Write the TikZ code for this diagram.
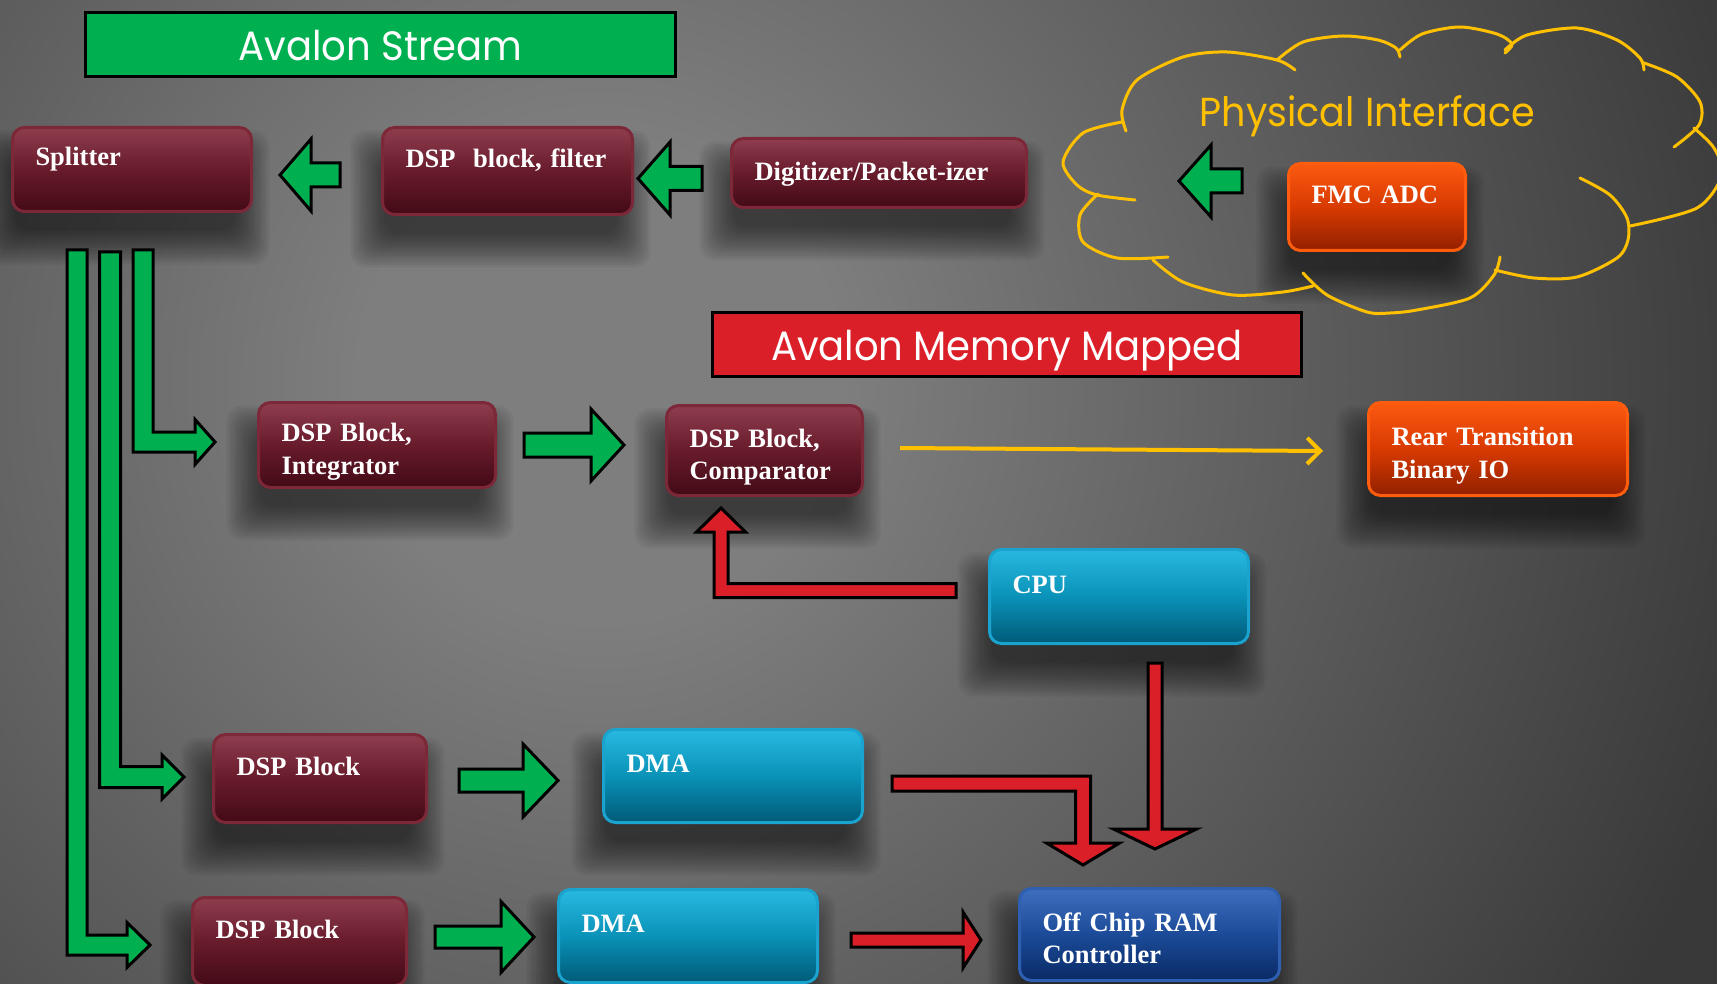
\documentclass[tikz,border=0pt]{standalone}
\usepackage{fontspec}
\newfontfamily\boxfont{Liberation Serif}
\newfontfamily\titlefont{Poppins}[FakeStretch=0.94]
\usetikzlibrary{calc,arrows.meta}

\definecolor{agreen}{HTML}{00B050}
\definecolor{ared}{HTML}{DA1F28}
\definecolor{cloudy}{HTML}{FFC000}
\definecolor{bgin}{HTML}{7E7E7E}
\definecolor{bgout}{HTML}{393939}
\definecolor{mtop}{HTML}{8E3D4E}
\definecolor{mmid}{HTML}{681B2B}
\definecolor{mbot}{HTML}{430A16}
\definecolor{mbord}{HTML}{7D2838}
\definecolor{btop}{HTML}{28B9E0}
\definecolor{bmid}{HTML}{0A92B8}
\definecolor{bbot}{HTML}{005A78}
\definecolor{bbord}{HTML}{1BA3CF}
\definecolor{otop}{HTML}{FB5A10}
\definecolor{omid}{HTML}{D83A02}
\definecolor{obot}{HTML}{922000}
\definecolor{obord}{HTML}{FF5C0E}
\definecolor{ntop}{HTML}{3E6EBE}
\definecolor{nmid}{HTML}{1B4B98}
\definecolor{nbot}{HTML}{0A2A66}
\definecolor{nbord}{HTML}{2F5FB0}

\pgfdeclareradialshading{bgrad}{\pgfpoint{0bp}{0bp}}{color(0bp)=(bgin); color(5bp)=(bgin); color(25bp)=(bgout); color(50bp)=(bgout)}
\pgfdeclarelayer{bglayer}
\pgfdeclarelayer{shadowlayer}
\pgfsetlayers{bglayer,shadowlayer,main}

% horizontal block arrow: style, tail, tip, shaft half width, head half width, head length (signed, + = right)
\newcommand\hblockarrow[6]{\draw[#1] ($(#2)+(0,-#4)$) -- ($(#3)+(-1*#6,-#4)$) -- ($(#3)+(-1*#6,-#5)$) -- (#3) -- ($(#3)+(-1*#6,#5)$) -- ($(#3)+(-1*#6,#4)$) -- ($(#2)+(0,#4)$) -- cycle;}
% vertical block arrow: head length signed, + = down
\newcommand\vblockarrow[6]{\draw[#1] ($(#2)+(-#4,0)$) -- ($(#3)+(-#4,-1*#6)$) -- ($(#3)+(-#5,-1*#6)$) -- (#3) -- ($(#3)+(#5,-1*#6)$) -- ($(#3)+(#4,-1*#6)$) -- ($(#2)+(#4,0)$) -- cycle;}
% bent block arrow: down, then right
\newcommand\downrightarrow[6]{\draw[#1] ($(#2)+(-#4,0)$) -- ($(#2)+(#4,0)$) -- ($(#2|-#3)+(#4,-#4)$) -- ($(#3)+(-#6,-#4)$) -- ($(#3)+(-#6,-#5)$) -- (#3) -- ($(#3)+(-#6,#5)$) -- ($(#3)+(-#6,#4)$) -- ($(#2|-#3)+(-#4,#4)$) -- cycle;}
% soft drop shadow under a node
\newcommand\softshadow[1]{\foreach \k in {0,...,14}{\fill[black, opacity=0.045, rounded corners=16pt] ($(#1.north west)+(-7-2.4*\k+10, 28-2.4*\k+10)$) rectangle ($(#1.south east)+(-7+2.4*\k-10, 28+2.4*\k-10)$);}}

\begin{document}
\begin{tikzpicture}[x=1pt,y=-1pt,
  sz/.style 2 args={minimum width=#1, minimum height=#2, text width=#1-46},
  box/.style={rounded corners=12pt, line width=3pt, text=white, align=left,
    inner xsep=23pt, inner ysep=0pt, text height=12pt, text depth=19pt,
    font={\boxfont\bfseries\fontsize{26.5}{32.5}\selectfont}},
  maroonbox/.style={box, draw=mbord, top color=mtop, bottom color=mbot, middle color=mmid},
  bluebox/.style={box, draw=bbord, top color=btop, bottom color=bbot, middle color=bmid},
  orangebox/.style={box, draw=obord, top color=otop, bottom color=obot, middle color=omid},
  navybox/.style={box, draw=nbord, top color=ntop, bottom color=nbot, middle color=nmid},
  titlebox/.style={draw=black, line width=3.5pt, text=white, inner sep=0pt,
    font={\titlefont\fontsize{41}{48}\selectfont}, text height=33pt, text depth=0pt},
  garrow/.style={fill=agreen, draw=black, line width=3pt, line join=miter},
  rarrow/.style={fill=ared, draw=black, line width=3pt, line join=miter},
  yarrow/.style={draw=cloudy, line width=4pt, -{Straight Barb[length=13pt,width=26pt]}},
  cloudline/.style={draw=cloudy, line width=3pt, line cap=round},
]
\useasboundingbox (0,0) rectangle (1717,984);
% background
\begin{pgfonlayer}{bglayer}
\fill[bgout] (0,0) rectangle (1717,984);
\begin{scope}
  \clip (0,0) rectangle (1717,984);
  \shade[shading=bgrad] (600,380) circle (1200);
\end{scope}
\end{pgfonlayer}

% cloud
\draw[cloudline] plot[smooth] coordinates {(1126,131) (1122,110) (1137,80) (1183,57) (1227,52) (1277,60) (1295,70)};
\draw[cloudline] plot[smooth] coordinates {(1277,60) (1303,42) (1343,36) (1378,40) (1396,48) (1400,57)};
\draw[cloudline] plot[smooth] coordinates {(1400,50) (1422,34) (1460,27) (1497,34) (1512,44) (1505,53)};
\draw[cloudline] plot[smooth] coordinates {(1505,50) (1527,35) (1577,28) (1617,40) (1640,58) (1644,70)};
\draw[cloudline] plot[smooth] coordinates {(1644,63) (1677,77) (1700,102) (1699,125) (1674,147)};
\draw[cloudline] plot[smooth] coordinates {(1694,128) (1714,148) (1722,175) (1697,208) (1630,226)};
\draw[cloudline] plot[smooth] coordinates {(1580,178) (1610,195) (1627,218) (1628,240) (1617,258) (1577,277) (1534,278) (1495,270)};
\draw[cloudline] plot[smooth] coordinates {(1500,257) (1494,275) (1470,298) (1417,310) (1390,313) (1367,312) (1327,295) (1303,273)};
\draw[cloudline] plot[smooth] coordinates {(1313,286) (1283,292) (1233,295) (1183,282) (1153,260)};
\draw[cloudline] plot[smooth] coordinates {(1168,257) (1117,258) (1083,242) (1080,215) (1098,194)};
\draw[cloudline] plot[smooth] coordinates {(1135,200) (1097,195) (1077,185) (1063,162) (1083,133) (1122,122)};
\node[text=cloudy, inner sep=0pt, font={\titlefont\fontsize{40.5}{48}\selectfont}, text height=30pt, text depth=0pt] (phy) at (1367.5,112) {Physical Interface};

% titles
\node[titlebox, fill=agreen, minimum width=590, minimum height=64] (ast) at (380.5,44.5) {Avalon Stream};
\node[titlebox, fill=ared, minimum width=589, minimum height=64, text height=32pt] (amm) at (1007,344.5) {Avalon Memory Mapped};

% boxes
\node[maroonbox, sz={239}{84}] (spl) at (132,169.5) {Splitter};
\node[maroonbox, sz={250}{87}] (flt) at (507.5,171) {DSP\ \ block, filter};
\node[maroonbox, sz={295}{69}, text height=20pt, text depth=4pt] (dig) at (879,173) {Digitizer/Packet-izer};
\node[orangebox, sz={177}{87}] (fmc) at (1377,207) {FMC ADC};
\node[maroonbox, sz={237}{85}] (int) at (377,445) {DSP Block,\\Integrator};
\node[maroonbox, sz={196}{90}] (cmp) at (764.5,450.5) {DSP Block,\\Comparator};
\node[orangebox, sz={259}{93}] (rtb) at (1498,449) {Rear Transition\\Binary IO};
\node[bluebox, sz={259}{94}] (cpu) at (1119,596.5) {CPU};
\node[maroonbox, sz={213}{88}] (dsp2) at (320,778.5) {DSP Block};
\node[bluebox, sz={259}{93}] (dma1) at (733,776) {DMA};
\node[maroonbox, sz={214}{88}] (dsp3) at (299.5,941.5) {DSP Block};
\node[bluebox, sz={259}{93}] (dma2) at (688,936) {DMA};
\node[navybox, sz={260}{92}] (ram) at (1149.5,934.5) {Off Chip RAM\\Controller};

\begin{pgfonlayer}{shadowlayer}
\foreach \n in {spl,flt,dig,fmc,int,cmp,rtb,cpu,dsp2,dma1,dsp3,dma2,ram}{\softshadow{\n}}
\end{pgfonlayer}

% connector end points
\coordinate (ga1s) at ($(flt.west)+(-41,4)$);
\coordinate (ga1e) at ($(spl.east)+(27,5.5)$);
\coordinate (ga2s) at ($(dig.west)+(-28,5.5)$);
\coordinate (ga2e) at ($(flt.east)+(4,7.5)$);
\coordinate (ga3s) at ($(fmc.west)+(-45,-26)$);
\coordinate (ga3e) at ($(dig.east)+(151,8)$);
\coordinate (gr1s) at ($(int.east)+(27,0)$);
\coordinate (gr1e) at ($(cmp.west)+(-41,-5.5)$);
\coordinate (gr2s) at ($(dsp2.east)+(31,2)$);
\coordinate (gr2e) at ($(dma1.west)+(-44,4.5)$);
\coordinate (gr3s) at ($(dsp3.east)+(27,-4.5)$);
\coordinate (gr3e) at ($(dma2.west)+(-23,1)$);
\coordinate (b3s) at ($(spl.south west)+(132,37)$);
\coordinate (b3e) at ($(int.west)+(-42,-3)$);
\coordinate (b2s) at ($(spl.south west)+(99,39)$);
\coordinate (b2e) at ($(dsp2.west)+(-28,-1.5)$);
\coordinate (b1s) at ($(spl.south west)+(66,37)$);
\coordinate (b1e) at ($(dsp3.west)+(-41,3.5)$);
\coordinate (r1s) at ($(cpu.west)+(-32,-6)$);
\coordinate (r1e) at ($(cmp.south)+(-43.5,11)$);
\coordinate (r2s) at ($(cpu.south)+(36,18)$);
\coordinate (r2e) at ($(ram.north)+(5.5,-38)$);
\coordinate (r3s) at ($(dma1.east)+(28,7.5)$);
\coordinate (r3e) at ($(ram.north)+(-66.5,-22)$);
\coordinate (r4s) at ($(dma2.east)+(32,4)$);
\coordinate (r4e) at ($(ram.west)+(-37,5.5)$);
\coordinate (ys) at ($(cmp.east)+(36,-2.5)$);
\coordinate (ye) at ($(rtb.west)+(-44,2)$);

% green stream arrows
\hblockarrow{garrow}{ga1s}{ga1e}{12}{36}{-31}
\hblockarrow{garrow}{ga2s}{ga2e}{12}{36.5}{-32}
\hblockarrow{garrow}{ga3s}{ga3e}{12}{36}{-32}
\hblockarrow{garrow}{gr1s}{gr1e}{12}{36}{33}
\hblockarrow{garrow}{gr2s}{gr2e}{11.5}{36.5}{35}
\hblockarrow{garrow}{gr3s}{gr3e}{11}{35.5}{33}
\downrightarrow{garrow}{b3s}{b3e}{10}{22.5}{20}
\downrightarrow{garrow}{b2s}{b2e}{10.5}{22}{22}
\downrightarrow{garrow}{b1s}{b1e}{10}{22.5}{23}

% red memory mapped arrows
\draw[rarrow] ($(r1s)+(0,-7)$) -- ($(r1s-|r1e)+(7,-7)$) -- ($(r1e)+(7,24)$) -- ($(r1e)+(24.5,24)$) -- (r1e) -- ($(r1e)+(-24.5,24)$) -- ($(r1e)+(-7,24)$) -- ($(r1s-|r1e)+(-7,7)$) -- ($(r1s)+(0,7)$) -- cycle;
\vblockarrow{rarrow}{r2s}{r2e}{7}{41.5}{20}
\draw[rarrow] ($(r3s)+(0,-7.5)$) -- ($(r3s-|r3e)+(7.5,-7.5)$) -- ($(r3e)+(7.5,-22)$) -- ($(r3e)+(36.5,-22)$) -- (r3e) -- ($(r3e)+(-36.5,-22)$) -- ($(r3e)+(-7.5,-22)$) -- ($(r3s-|r3e)+(-7.5,7.5)$) -- ($(r3s)+(0,7.5)$) -- cycle;
\hblockarrow{rarrow}{r4s}{r4e}{7}{28}{18}

% yellow arrow
\draw[yarrow] (ys) -- (ye);
\end{tikzpicture}
\end{document}
